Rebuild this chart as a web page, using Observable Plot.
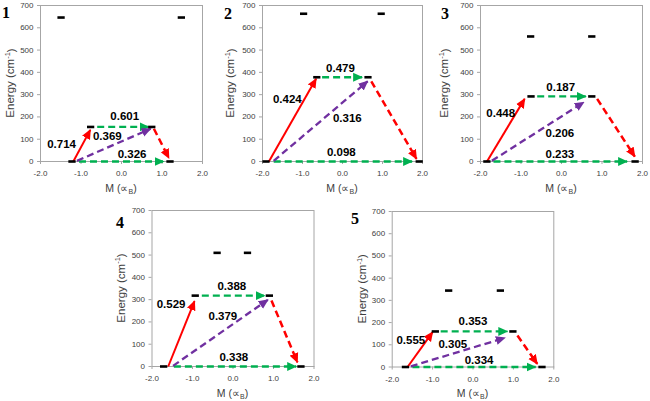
<!DOCTYPE html>
<html><head><meta charset="utf-8">
<script src="https://cdn.jsdelivr.net/npm/d3@7"></script>
<script src="https://cdn.jsdelivr.net/npm/@observablehq/plot@0.6"></script>
<style>
body{margin:0;background:#fff;}
#chart{position:relative;width:650px;height:401px;overflow:hidden;background:#fff;}
#chart svg.panel{position:absolute;}
#nums{position:absolute;left:0;top:0;}
</style></head><body><div id="chart"></div>
<script>
// ---- data ----
const panelIds = ["1", "2", "3", "4", "5"];
const xTicks = [-2, -1, 0, 1, 2];
const yTicks = [0, 100, 200, 300, 400, 500, 600, 700];

// energy levels (M, energy in cm-1)
const levelM = [
  [-1.21, 1.21, -0.75, 0.76, -1.48, 1.49],
  [-1.90, 1.93, -0.63, 0.65, -0.96, 0.98],
  [-1.83, 1.83, -0.74, 0.76, -0.75, 0.76],
  [-1.70, 1.69, -0.92, 0.91, -0.38, 0.37],
  [-1.66, 1.72, -0.92, 1.00, -0.59, 0.69]
];
const levelE = [
  [0, 0, 155, 155, 646, 646],
  [0, 0, 378, 378, 663, 663],
  [0, 0, 292, 292, 561, 561],
  [0, 0, 318, 318, 510, 510],
  [0, 0, 160, 160, 344, 344]
];

// transitions: red solid, green (upper), purple, red dashed, green (ground)
const arrowKinds = ["red", "green", "purple", "redDash", "green"];
const arrowM1 = [
  [-1.19, -0.60, -1.10, 0.80, -1.05],
  [-1.84, -0.51, -1.72, 0.72, -1.72],
  [-1.84, -0.60, -1.72, 0.88, -1.68],
  [-1.60, -0.77, -1.48, 0.95, -1.46],
  [-1.62, -0.80, -1.54, 1.10, -1.50]
];
const arrowE1 = [
  [0, 155, 3, 147, 0],
  [0, 378, 3, 360, 0],
  [0, 292, 3, 281, 0],
  [0, 318, 3, 296, 0],
  [0, 160, 3, 142, 0]
];
const arrowM2 = [
  [-0.77, 0.67, 0.72, 1.17, 1.04],
  [-0.66, 0.49, 0.63, 1.85, 1.74],
  [-0.91, 0.60, 0.55, 1.81, 1.62],
  [-0.95, 0.78, 0.86, 1.59, 1.56],
  [-1.00, 0.85, 0.79, 1.59, 1.55]
];
const arrowE2 = [
  [142, 155, 147, 15, 0],
  [371, 378, 360, 12, 0],
  [281, 292, 266, 22, 0],
  [293, 318, 299, 19, 0],
  [157, 160, 131, 14, 0]
];

// transition probability labels
const labelText = [
  ["0.714", "0.601", "0.369", "0.326"],
  ["0.424", "0.479", "0.316", "0.098"],
  ["0.448", "0.187", "0.206", "0.233"],
  ["0.529", "0.388", "0.379", "0.338"],
  ["0.555", "0.353", "0.305", "0.334"]
];
const labelM = [
  [-1.48, 0.08, -0.35, 0.26],
  [-1.38, -0.05, 0.12, -0.03],
  [-1.50, -0.02, -0.04, -0.04],
  [-1.53, -0.03, -0.25, 0.02],
  [-1.54, 0.00, -0.50, 0.15]
];
const labelE = [
  [75, 202, 112, 34],
  [277, 420, 196, 42],
  [214, 333, 127, 34],
  [278, 359, 224, 39],
  [119, 206, 104, 32]
];

// ---- layout (pixels) ----
const layout = [
  {left: 0,   top: 0,   width: 210, height: 200, ml: 40,   mr: 8,   mt: 5,  mb: 39,   ty: 30, num: [2, 17.5]},
  {left: 215, top: 0,   width: 215, height: 200, ml: 47,   mr: 8,   mt: 5,  mb: 39,   ty: 32, num: [224, 18.5]},
  {left: 432, top: 0,   width: 218, height: 200, ml: 48,   mr: 8,   mt: 5,  mb: 39,   ty: 36, num: [441, 18.5]},
  {left: 110, top: 200, width: 212, height: 200, ml: 41.5, mr: 8.5, mt: 10, mb: 34,   ty: 31, num: [116, 227.5]},
  {left: 340, top: 200, width: 220, height: 200, ml: 51.7, mr: 6.7, mt: 11, mb: 33.5, ty: 30, num: [351, 224]}
];

const styleOf = {
  red:     {stroke: "#ff0000", strokeWidth: 2,   strokeDasharray: null},
  green:   {stroke: "#00b050", strokeWidth: 2.3, strokeDasharray: "7,4"},
  purple:  {stroke: "#7030a0", strokeWidth: 2.3, strokeDasharray: "7,4"},
  redDash: {stroke: "#ff0000", strokeWidth: 2.5, strokeDasharray: "7,4"}
};

const chart = document.getElementById("chart");
const fmt = d => d.toFixed(1);

panelIds.forEach((id, i) => {
  const L = layout[i];
  const levels = levelM[i].map((m, j) => ({m, e: levelE[i][j]}));
  const arrows = arrowKinds.map((k, j) => ({k, x1: arrowM1[i][j], y1: arrowE1[i][j], x2: arrowM2[i][j], y2: arrowE2[i][j]}));
  const labels = labelText[i].map((t, j) => ({t, m: labelM[i][j], e: labelE[i][j]}));

  const arrowMarks = Object.keys(styleOf).map(k => {
    const s = styleOf[k];
    const o = {x1: "x1", y1: "y1", x2: "x2", y2: "y2", stroke: s.stroke, strokeWidth: s.strokeWidth};
    if (s.strokeDasharray) o.strokeDasharray = s.strokeDasharray;
    return Plot.link(arrows.filter(a => a.k === k), o);
  });

  const svg = Plot.plot({
    width: L.width, height: L.height,
    marginLeft: L.ml, marginRight: L.mr, marginTop: L.mt, marginBottom: L.mb,
    style: {fontFamily: "'Liberation Sans', Arial, sans-serif", background: "transparent", overflow: "visible"},
    x: {domain: [-2, 2]},
    y: {domain: [0, 700]},
    marks: [
      Plot.axisX({ticks: xTicks, tickFormat: fmt, tickSize: 3, tickPadding: 6, fontSize: 8, fill: "#404040", stroke: "#a6a6a6", label: null}),
      Plot.axisY({ticks: yTicks, tickFormat: d => String(d), tickSize: 3, tickPadding: 4, fontSize: 8, fill: "#404040", stroke: "#a6a6a6", label: null}),
      Plot.frame({stroke: "#a6a6a6"}),
      ...arrowMarks,
      Plot.ruleY(levels, {y: "e", x1: d => d.m - 0.09, x2: d => d.m + 0.09, stroke: "black", strokeWidth: 2.6}),
      Plot.text(labels, {x: "m", y: "e", text: "t", fontSize: 11.5, fontWeight: "bold", fill: "black"})
    ]
  });
  svg.classList.add("panel");
  svg.style.left = L.left + "px";
  svg.style.top = L.top + "px";

  const s = d3.select(svg);
  // filled triangular arrowheads
  const defs = s.insert("defs", ":first-child");
  const colors = {"#ff0000": "r", "#00b050": "g", "#7030a0": "p"};
  Object.entries(colors).forEach(([c, n]) => {
    defs.append("marker")
      .attr("id", `ah-${n}-${i}`)
      .attr("viewBox", "0 0 10 10")
      .attr("refX", 9).attr("refY", 5)
      .attr("markerUnits", "userSpaceOnUse")
      .attr("markerWidth", 10).attr("markerHeight", 10)
      .attr("orient", "auto")
      .append("path").attr("d", "M0,0.5L10,5L0,9.5Z").attr("fill", c).attr("stroke", "none");
  });
  s.selectAll('g[aria-label="link"]').each(function() {
    const c = (this.getAttribute("stroke") || "").toLowerCase();
    const n = colors[c];
    if (n) d3.select(this).selectAll("path").attr("marker-end", `url(#ah-${n}-${i})`);
  });

  // axis titles
  const cx = L.ml + (L.width - L.ml - L.mr) / 2;
  const cy = L.mt + (L.height - L.mt - L.mb) / 2;
  const yt = s.append("text")
    .attr("transform", `translate(${L.ml - L.ty},${cy}) rotate(-90)`)
    .attr("text-anchor", "middle").attr("dy", "0.35em")
    .attr("font-size", 11.5).attr("fill", "#404040");
  yt.append("tspan").text("Energy (cm");
  yt.append("tspan").attr("font-size", 7.5).attr("dy", "-0.55em").text("-1");
  yt.append("tspan").attr("dy", "0.4em").text(")");
  const xt = s.append("text")
    .attr("x", cx).attr("y", L.height - L.mb + 30.5)
    .attr("text-anchor", "middle")
    .attr("font-size", 10.5).attr("fill", "#404040");
  xt.append("tspan").text("M (\u221D");
  xt.append("tspan").attr("font-size", 7).attr("dy", "0.3em").text("B");
  xt.append("tspan").attr("dy", "-0.2em").text(")");

  chart.appendChild(svg);
});

// panel numbers
const nums = d3.select(chart).append("svg").attr("id", "nums").attr("width", 650).attr("height", 401);
panelIds.forEach((id, i) => {
  nums.append("text").attr("x", layout[i].num[0]).attr("y", layout[i].num[1])
    .attr("font-family", "'Liberation Serif', 'Times New Roman', serif")
    .attr("font-weight", "bold").attr("font-size", 16).attr("fill", "black").text(id);
});
</script>
</body></html>
